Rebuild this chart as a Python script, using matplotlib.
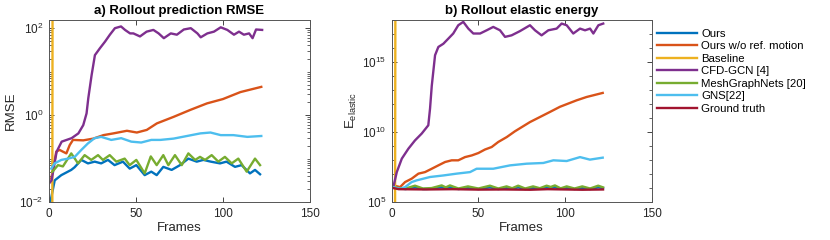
import numpy as np
import matplotlib
matplotlib.use("Agg")
from matplotlib import pyplot as plt
from matplotlib.ticker import LogLocator, FixedLocator, NullFormatter

plt.rcParams['font.family'] = ['Liberation Sans', 'DejaVu Sans']
plt.rcParams['mathtext.fontset'] = 'custom'
plt.rcParams['mathtext.rm'] = 'Liberation Sans'
plt.rcParams['mathtext.it'] = 'Liberation Sans:italic'

labels = ['Ours', 'Ours w/o ref. motion', 'Baseline', 'CFD-GCN [4]',
          'MeshGraphNets [20]', 'GNS[22]', 'Ground truth']
colors = ['#0072BD', '#D95319', '#EDB120', '#7E2F8E',
          '#77AC30', '#4DBEEE', '#A2142F']

# ---- a) RMSE (values are log10 of RMSE) ----
rmse_ours_f = [0.8, 3.3, 7.1, 12.8, 14.7, 18.6, 22.4, 26.3, 30, 33.9, 37.7, 42.5, 46.4,
               50.2, 55, 58.8, 61.9, 65.7, 70.5, 75.3, 80.1, 84.9, 88.7, 93, 98.3,
               102, 106.9, 110.7, 115.5, 118.4, 121.3]
rmse_ours = [-2.0, -1.5, -1.38, -1.26, -1.2, -1.03, -1.11, -1.07, -1.11, -1.03, -1.15,
             -1.07, -1.23, -1.15, -1.38, -1.30, -1.38, -1.19, -1.26, -1.15, -1.0, -1.07,
             -1.03, -1.07, -1.11, -1.07, -1.19, -1.15, -1.34, -1.26, -1.36]

rmse_noref_f = [1.3, 4.2, 6.1, 8, 10, 11.9, 13.8, 19.7, 25.5, 31.3, 37, 44.8, 50.5, 56.2,
                62, 71.6, 81.2, 90.8, 100, 110, 122]
rmse_noref = [-1.46, -0.84, -0.80, -0.84, -0.88, -0.69, -0.57, -0.58, -0.54, -0.46,
              -0.42, -0.36, -0.40, -0.34, -0.19, -0.04, 0.12, 0.27, 0.37, 0.53, 0.65]

base_f = [1.9, 2.1]
rmse_base = [-3, 4]

rmse_cfd_f = [0.5, 1.5, 4.4, 7.3, 13, 16.9, 19.7, 21.6, 22.6, 24.5, 26.4, 29.3, 32.2, 35,
              37.9, 41.4, 43.7, 46.6, 48.5, 52.3, 56.1, 60, 63, 66, 70, 73.5, 77.5, 81.5,
              85.3, 87.2, 91, 94.8, 98.7, 102.5, 106.3, 109.2, 112, 115, 117, 119, 122.5]
rmse_cfd = [-1.55, -1.5, -0.84, -0.61, -0.53, -0.42, -0.23, 0.04, 0.39, 0.92, 1.38,
            1.54, 1.69, 1.85, 2.0, 2.04, 1.96, 1.88, 1.88, 1.81, 1.92, 1.96, 1.88, 1.77,
            1.88, 1.85, 1.97, 2.0, 1.88, 1.79, 1.88, 1.92, 2.02, 1.96, 1.85, 1.92, 1.85,
            1.88, 1.77, 1.97, 1.96]

rmse_mgn_f = [2, 5.2, 8, 12.8, 16.7, 20.5, 24.3, 28.2, 31, 34.9, 38.7, 43.5, 46.4, 50.2,
              55, 58.5, 61.9, 65.7, 68.6, 72.4, 76.3, 80.1, 84, 86.8, 89.7, 93.5, 97.3,
              101.1, 105, 108.8, 113.6, 118.4, 121.3]
rmse_mgn = [-1.3, -1.15, -1.18, -0.88, -1.11, -0.92, -1.03, -0.92, -1.03, -0.92, -1.07,
            -1.0, -1.15, -1.03, -1.34, -0.95, -1.15, -0.92, -1.15, -0.92, -1.15, -0.88,
            -1.03, -0.96, -1.03, -0.92, -1.07, -0.96, -1.11, -1.0, -1.30, -1.0, -1.15]

rmse_gns_f = [1.3, 3.2, 7.1, 11, 14.8, 18.6, 22.4, 26.2, 30, 35.8, 41.5, 47.3, 53, 58.8,
              64, 71.6, 79.3, 87, 92.8, 98.7, 106, 114, 122]
rmse_gns = [-1.23, -1.11, -1.03, -1.0, -0.96, -0.8, -0.65, -0.53, -0.5, -0.57, -0.53,
            -0.61, -0.63, -0.57, -0.57, -0.54, -0.48, -0.42, -0.40, -0.46, -0.46, -0.50,
            -0.48]

# ---- b) elastic energy (values are log10 of E) ----
en_ours_f = [0.5, 4, 8, 13.4, 18, 23, 28.8, 31.2, 33.6, 38.5, 44, 50, 56.7, 61.5, 66.3,
             69.5, 73, 77, 81.6, 85.5, 89.4, 91.8, 94.2, 97.5, 101, 105.5, 110, 114.5,
             119.2, 122]
en_ours = [6.07, 5.98, 5.93, 6.05, 5.93, 5.95, 6.06, 5.98, 6.06, 5.93, 6.02, 5.93, 6.05,
           5.93, 6.02, 5.95, 6.05, 5.93, 6.02, 5.95, 6.05, 6.0, 6.06, 5.94, 6.02, 5.93,
           6.02, 5.93, 6.05, 6.0]

en_noref_f = [0.9, 4.8, 7.7, 11.5, 15.4, 19.2, 23.1, 26.9, 30.8, 34.6, 38.4, 42.3, 46.2,
              50, 53.8, 57.7, 61.5, 66.4, 71.1, 79.8, 91.3, 97.1, 106.7, 112.5, 121.8]
en_noref = [6.19, 6.07, 6.43, 6.67, 7.03, 7.14, 7.38, 7.62, 7.86, 7.98, 7.98, 8.21, 8.33,
            8.5, 8.75, 8.93, 9.29, 9.64, 10.05, 10.71, 11.43, 11.8, 12.26, 12.5, 12.79]

en_base = [4, 20]

en_cfd_f = [0.9, 2.9, 5.8, 9.6, 13.4, 17.3, 21.1, 22.1, 23.1, 25, 26.9, 29.8, 32.7, 35.5,
            38.4, 41.3, 44.2, 47.1, 51, 54.8, 58.6, 62.5, 65.4, 69.2, 74, 79.8, 82.7,
            86.5, 90.4, 95.2, 98.1, 101, 104.8, 108.7, 111.6, 114.5, 116.4, 119.3, 122.1]
en_cfd = [6.07, 7.14, 8.1, 8.81, 9.4, 9.89, 10.48, 11.67, 13.3, 15.48, 16.07, 16.3,
          16.67, 17.03, 17.62, 17.86, 17.38, 17.03, 17.03, 17.26, 17.5, 17.26, 16.79,
          16.9, 17.2, 17.62, 17.26, 16.9, 17.26, 17.38, 17.74, 17.62, 17.03, 17.38,
          17.26, 17.38, 17.03, 17.62, 17.74]

en_mgn_f = en_ours_f
en_mgn = [6.07, 6.0, 5.97, 6.17, 5.97, 6.0, 6.19, 6.05, 6.19, 5.97, 6.12, 5.97, 6.17,
          5.97, 6.12, 5.99, 6.17, 5.97, 6.12, 5.99, 6.17, 6.08, 6.19, 5.98, 6.12, 5.97,
          6.12, 5.97, 6.17, 6.05]

en_gns_f = [0.9, 4.8, 7.7, 11.5, 14.4, 22.1, 29.8, 37.5, 45.2, 49, 58.6, 68.3, 77.9,
            87.5, 93.3, 101, 108.7, 114.4, 121.8]
en_gns = [6.07, 5.95, 6.07, 6.43, 6.55, 6.79, 6.9, 7.03, 7.14, 7.38, 7.38, 7.62, 7.74,
          7.79, 7.98, 7.93, 8.21, 8.03, 8.17]

en_gt_f = [0.9, 4, 20, 35, 50, 65, 80, 90, 100, 110, 122]
en_gt = [6.0, 5.92, 5.9, 5.92, 5.89, 5.9, 5.88, 5.92, 5.9, 5.88, 5.9]

rmse_series = [(rmse_ours_f, rmse_ours), (rmse_noref_f, rmse_noref), (base_f, rmse_base),
               (rmse_cfd_f, rmse_cfd), (rmse_mgn_f, rmse_mgn), (rmse_gns_f, rmse_gns)]
en_series = [(en_ours_f, en_ours), (en_noref_f, en_noref), (base_f, en_base),
             (en_cfd_f, en_cfd), (en_mgn_f, en_mgn), (en_gns_f, en_gns), (en_gt_f, en_gt)]

fig = plt.figure(figsize=(8.3, 2.4), dpi=100)
ax_a = fig.add_axes([0.059, 0.158, 0.3145, 0.759])
ax_b = fig.add_axes([0.472, 0.158, 0.313, 0.759])

edge = '#262626'
for ax, series in [(ax_a, rmse_series), (ax_b, en_series)]:
    for (f, v), c, lab in zip(series, colors, labels):
        ax.plot(f, np.power(10.0, v), color=c, lw=1.7, label=lab)
    ax.set_yscale('log')
    ax.set_xlim(0, 150)
    ax.set_xticks([0, 50, 100, 150])
    ax.set_xlabel('Frames', fontsize=9.5, labelpad=2, color=edge)
    ax.tick_params(which='both', direction='in', top=True, right=True,
                   labelsize=8.5, colors=edge, pad=4)
    ax.tick_params(which='major', length=3.5, width=0.6)
    ax.tick_params(which='minor', length=2, width=0.5)
    for s in ax.spines.values():
        s.set_color('#555555')
        s.set_linewidth(0.7)

ax_a.set_ylim(1e-2, 10 ** 2.19)
ax_a.yaxis.set_major_locator(FixedLocator([1e-2, 1e0, 1e2]))
ax_a.yaxis.set_minor_locator(LogLocator(base=10, subs=np.arange(1, 10)))
ax_a.yaxis.set_minor_formatter(NullFormatter())
ax_a.set_ylabel('RMSE', fontsize=9.5, labelpad=2, color=edge)
ax_a.set_title('a) Rollout prediction RMSE', fontsize=9.5, fontweight='bold', pad=4)

ax_b.set_ylim(1e5, 1e18)
ax_b.yaxis.set_major_locator(FixedLocator([1e5, 1e10, 1e15]))
ax_b.yaxis.set_minor_locator(FixedLocator([10.0 ** k for k in range(5, 19)]))
ax_b.yaxis.set_minor_formatter(NullFormatter())
ax_b.set_ylabel(r'E$_{\mathrm{elastic}}$', fontsize=9.5, labelpad=2, color=edge)
ax_b.set_title('b) Rollout elastic energy', fontsize=9.5, fontweight='bold', pad=4)

handles, labs = ax_b.get_legend_handles_labels()
fig.legend(handles, labs, loc='upper left', bbox_to_anchor=(0.7916, 0.88),
           frameon=False, fontsize=8.2, borderpad=0, labelspacing=0.22,
           handlelength=3.5, handletextpad=0.4, borderaxespad=0)

fig.savefig('out.png', dpi=100)
